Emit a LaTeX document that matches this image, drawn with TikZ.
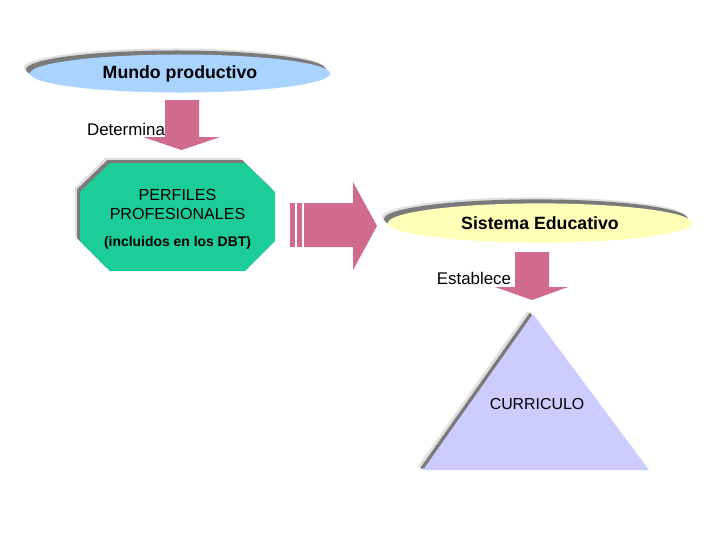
\documentclass[tikz,border=0pt]{standalone}
\usepackage{fontspec}
\setmainfont{Liberation Sans}
\usepackage{tikz}
\usetikzlibrary{shapes.geometric,shadows}
\definecolor{mpblue}{HTML}{A8D4FF}
\definecolor{mpyellow}{HTML}{FFFFB8}
\definecolor{mpgreen}{HTML}{1CCC99}
\definecolor{mppink}{HTML}{D06A8E}
\definecolor{mplila}{HTML}{CCCCFF}
\definecolor{mpgray}{HTML}{7A7A7A}

\begin{document}
\begin{tikzpicture}[x=0.025cm,y=-0.025cm,
  shd/.style={general shadow={fill=gray!25,shadow xshift=-0.15cm,shadow yshift=0.15cm},
    general shadow={fill=mpgray,shadow xshift=-0.1cm,shadow yshift=0.1cm}},
  oval/.style={ellipse,inner sep=0pt,shd,font=\fontsize{12.6}{15}\selectfont\bfseries},
  chip/.style={general shadow={fill=gray!25,shadow xshift=-0.12cm,shadow yshift=0.12cm},
    general shadow={fill=mpgray,shadow xshift=-0.07cm,shadow yshift=0.07cm},fill=mpgreen},
  blk/.style={fill=mppink},
  lab/.style={font=\fontsize{12}{14}\selectfont,inner sep=0pt}]
\path[use as bounding box] (0,0) rectangle (720,540);
\fill[white] (0,0) rectangle (720,540);
\node[oval,fill=mpblue,minimum width=7.5cm,minimum height=0.95cm] (mundo) at (180,73.5) {Mundo productivo};
% octagono de perfiles
\path[chip] (110,163) -- (245,163) -- (275,192) -- (275,241) -- (245,271) -- (110,271)
  -- (80,241) -- (80,192) -- cycle;
\node[align=center,inner sep=0pt,font=\fontsize{11.4}{13.7}\selectfont] (perfiles) at (177.5,219.5)
  {PERFILES\\PROFESIONALES\\[5.5pt]
  {\fontsize{9.9}{12}\selectfont\bfseries (incluidos en los DBT)}};
\node[oval,fill=mpyellow,minimum width=7.6cm,minimum height=0.98cm] (sistema) at (540,223) {Sistema Educativo};
% triangulo del curriculo
\coordinate (apex) at (533,314);
\coordinate (bl) at (423,470);
\coordinate (br) at (649,470);
\fill[gray!25] ([shift={(-5.5,-3)}]apex) -- ([shift={(-5.5,-3)}]bl) -- ([shift={(-5.5,-3)}]br) -- cycle;
\fill[mpgray] ([shift={(-3,-1.5)}]apex) -- ([shift={(-3,-1.5)}]bl) -- ([shift={(-3,-1.5)}]br) -- cycle;
\fill[mplila] (apex) -- (bl) -- (br) -- cycle;
\node[font=\fontsize{11.3}{13}\selectfont,inner sep=0pt] (curri) at (537,404) {CURRICULO};
% flechas
\fill[blk] (165,100) -- (199,100) -- (199,137) -- (220,137) -- (181.5,150) -- (143,137) -- (165,137) -- cycle;
\node[lab] (determina) at (126,129) {Determina};
\fill[blk] (290,203) rectangle (294.5,247);
\fill[blk] (296.5,203) rectangle (302,247);
\fill[blk] (304,203) -- (353,203) -- (353,182) -- (377,226) -- (353,270) -- (353,247) -- (304,247) -- cycle;
\fill[blk] (515,252) -- (549,252) -- (549,287) -- (568,287) -- (532,300) -- (495,287) -- (515,287) -- cycle;
\node[lab] (establece) at (474,278) {Establece};
\end{tikzpicture}
\end{document}
